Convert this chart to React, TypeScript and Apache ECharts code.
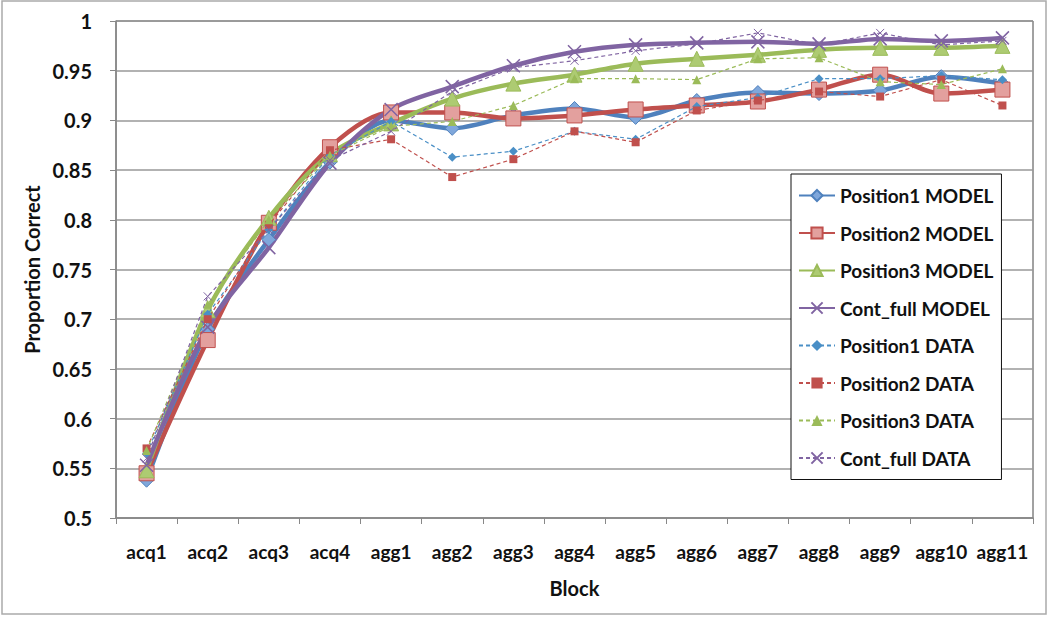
import React, { useEffect, useRef } from "react";
import * as echarts from "echarts";

const categories = ["acq1", "acq2", "acq3", "acq4", "agg1", "agg2", "agg3", "agg4", "agg5", "agg6", "agg7", "agg8", "agg9", "agg10", "agg11"];

const p1Model = [0.538, 0.690, 0.780, 0.858, 0.900, 0.892, 0.905, 0.912, 0.903, 0.920, 0.928, 0.927, 0.930, 0.944, 0.937];
const p2Model = [0.545, 0.679, 0.797, 0.873, 0.908, 0.908, 0.902, 0.905, 0.911, 0.915, 0.919, 0.931, 0.946, 0.927, 0.931];
const p3Model = [0.548, 0.709, 0.802, 0.866, 0.897, 0.922, 0.937, 0.946, 0.957, 0.962, 0.966, 0.971, 0.973, 0.973, 0.975];
const contModel = [0.553, 0.692, 0.772, 0.857, 0.911, 0.934, 0.955, 0.969, 0.976, 0.978, 0.979, 0.977, 0.982, 0.980, 0.983];
const p1Data = [0.565, 0.705, 0.790, 0.865, 0.899, 0.863, 0.869, 0.889, 0.881, 0.914, 0.923, 0.942, 0.942, 0.945, 0.941];
const p2Data = [0.570, 0.700, 0.795, 0.870, 0.881, 0.843, 0.861, 0.889, 0.878, 0.910, 0.920, 0.929, 0.924, 0.941, 0.915];
const p3Data = [0.568, 0.715, 0.800, 0.865, 0.894, 0.899, 0.915, 0.942, 0.942, 0.941, 0.962, 0.963, 0.939, 0.936, 0.952];
const contData = [0.560, 0.723, 0.790, 0.860, 0.889, 0.929, 0.953, 0.960, 0.970, 0.977, 0.988, 0.976, 0.988, 0.976, 0.980];

const BLUE = "#4F81BD";
const RED = "#C0504D";
const GREEN = "#9BBB59";
const PURPLE = "#8064A2";
const FONT = "Lato";
const XSYM = "path://M0,0L10,10M10,0L0,10";

export default function App() {
  const ref = useRef<HTMLDivElement>(null);
  useEffect(() => {
    document.body.style.margin = "0";
    const chart = echarts.init(ref.current!, null, { renderer: "svg" });
    const model = (name: string, data: number[], color: string, symbol: string, size: number, fill: string) => ({
      name,
      type: "line",
      data,
      smooth: 0.3,
      symbol,
      symbolSize: size,
      lineStyle: { color, width: 4.5 },
      itemStyle: { color: fill, borderColor: color, borderWidth: symbol === XSYM ? 1.5 : 1 },
      z: 2,
    });
    const dataS = (name: string, data: number[], color: string, symbol: string, size: number) => ({
      name,
      type: "line",
      data,
      symbol,
      symbolSize: size,
      lineStyle: { color, width: 1.2, type: [4, 3] },
      itemStyle: symbol === XSYM
        ? { color: "transparent", borderColor: color, borderWidth: 1 }
        : { color, borderColor: color, borderWidth: 0 },
      z: 3,
    });
    chart.setOption({
      animation: false,
      textStyle: { fontFamily: FONT },
      grid: { left: 116, top: 21, right: 17, bottom: 99, show: true, borderColor: "#444", borderWidth: 1 },
      xAxis: {
        type: "category",
        data: categories,
        boundaryGap: true,
        name: "Block",
        nameLocation: "middle",
        nameGap: 60,
        nameTextStyle: { fontFamily: FONT, fontWeight: "bold", fontSize: 20, color: "#111" },
        axisLine: { lineStyle: { color: "#888", width: 1.5 } },
        axisTick: { show: true, length: 6, lineStyle: { color: "#888" } },
        axisLabel: { fontFamily: FONT, fontWeight: "bold", fontSize: 19, color: "#111", margin: 24, interval: 0 },
      },
      yAxis: {
        type: "value",
        min: 0.5,
        max: 1,
        interval: 0.05,
        name: "Proportion Correct",
        nameLocation: "middle",
        nameGap: 73,
        nameTextStyle: { fontFamily: FONT, fontWeight: "bold", fontSize: 20, color: "#111" },
        axisLine: { show: true, lineStyle: { color: "#888", width: 1.5 } },
        axisTick: { show: true, length: 6, lineStyle: { color: "#888" } },
        axisLabel: {
          fontFamily: FONT, fontWeight: "bold", fontSize: 20, color: "#111", margin: 24,
          formatter: (v: number) => String(parseFloat(v.toFixed(2))),
        },
        splitLine: { show: true, lineStyle: { color: "#999", width: 1.5 } },
      },
      legend: {
        orient: "vertical",
        left: 791,
        top: 174,
        padding: [12, 8, 12, 7],
        itemWidth: 36,
        itemHeight: 14,
        itemGap: 18.5,
        backgroundColor: "#fff",
        borderColor: "#111",
        borderWidth: 1,
        textStyle: { fontFamily: FONT, fontWeight: "bold", fontSize: 19, color: "#111" },
        data: [
          "Position1 MODEL", "Position2 MODEL", "Position3 MODEL", "Cont_full MODEL",
          "Position1 DATA", "Position2 DATA", "Position3 DATA", "Cont_full DATA",
        ],
      },
      graphic: [
        { type: "rect", shape: { x: 2, y: 1, width: 1044, height: 613 }, style: { fill: "none", stroke: "#aaa", lineWidth: 1.5 }, silent: true },
      ],
      series: [
        model("Position1 MODEL", p1Model, BLUE, "diamond", 14, "#7FA7DB"),
        model("Position2 MODEL", p2Model, RED, "rect", 15, "#E3A09E"),
        model("Position3 MODEL", p3Model, GREEN, "triangle", 15, "#ADCB72"),
        model("Cont_full MODEL", contModel, PURPLE, XSYM, 13, "transparent"),
        dataS("Position1 DATA", p1Data, "#4A8FC6", "diamond", 9),
        dataS("Position2 DATA", p2Data, RED, "rect", 8),
        dataS("Position3 DATA", p3Data, GREEN, "triangle", 9),
        dataS("Cont_full DATA", contData, PURPLE, XSYM, 8),
      ],
    });
    return () => chart.dispose();
  }, []);
  return <div ref={ref} style={{ width: 1050, height: 617 }} />;
}
